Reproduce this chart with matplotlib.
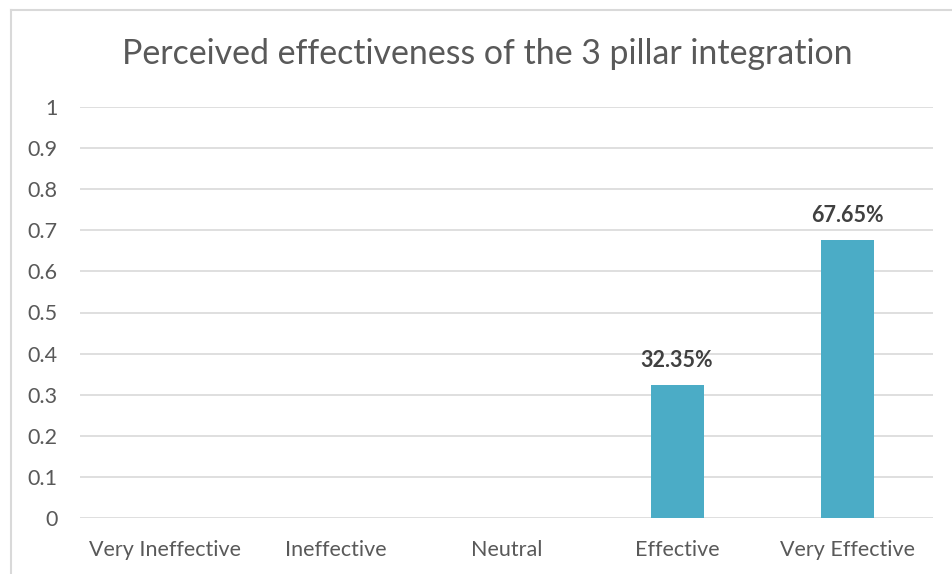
import matplotlib
matplotlib.use("Agg")
import matplotlib.pyplot as plt
from matplotlib.lines import Line2D

categories = ["Very Ineffective", "Ineffective", "Neutral", "Effective", "Very Effective"]
values = [0, 0, 0, 0.3235, 0.6765]
labels = ["", "", "", "32.35%", "67.65%"]
yticks = [0, 0.1, 0.2, 0.3, 0.4, 0.5, 0.6, 0.7, 0.8, 0.9, 1]
ytick_labels = ["0", "0.1", "0.2", "0.3", "0.4", "0.5", "0.6", "0.7", "0.8", "0.9", "1"]

plt.rcParams['font.family'] = ['Lato', 'DejaVu Sans']
txt = "#595959"

fig = plt.figure(figsize=(9.52, 5.74), dpi=100)
ax = fig.add_axes([80/952, 1-518/574, 853/952, 411/574])

x = list(range(len(categories)))
ax.bar(x, values, width=0.31, color="#4BACC6", zorder=3)
for xi, v, lab in zip(x, values, labels):
    if lab:
        ax.annotate(lab, (xi, v), xytext=(0, 10), textcoords="offset points",
                    ha="center", va="bottom", fontsize=15.5,
                    fontweight="bold", color="#404040")

ax.set_xlim(-0.5, 4.5)
ax.set_ylim(0, 1)
ax.set_yticks(yticks)
ax.set_yticklabels(ytick_labels)
ax.set_xticks(x)
ax.set_xticklabels(categories)
ax.grid(axis="y", color="#D9D9D9", linewidth=1.2, zorder=0)
for s in ax.spines.values():
    s.set_visible(False)
ax.tick_params(axis="both", length=0, labelsize=15.5, colors=txt)
ax.tick_params(axis="y", pad=16)
ax.tick_params(axis="x", pad=16)
for lbl in ax.get_yticklabels():
    lbl.set_horizontalalignment("right")

fig.text(487/952, 1-54/574, "Perceived effectiveness of the 3 pillar integration",
         ha="center", va="center", fontsize=24.4, color=txt)

# chart border (left and top visible)
fig.add_artist(Line2D([11/952, 11/952], [0, 1-10/574], transform=fig.transFigure,
                      color="#D9D9D9", linewidth=1.5))
fig.add_artist(Line2D([11/952, 1], [1-10/574, 1-10/574], transform=fig.transFigure,
                      color="#D9D9D9", linewidth=1.5))

fig.savefig("out.png", dpi=100)
